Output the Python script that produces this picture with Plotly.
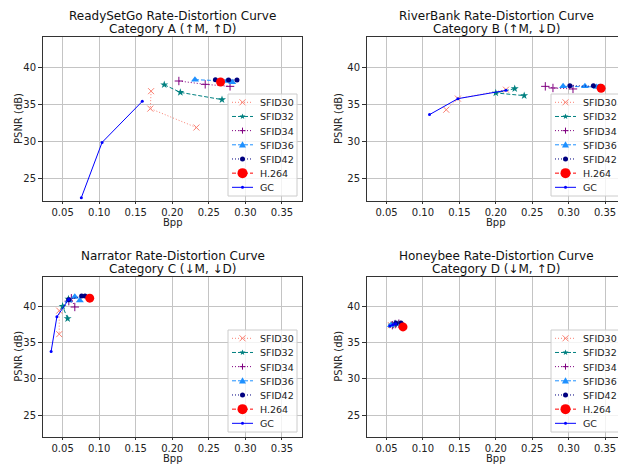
import math
import plotly.graph_objects as go

# ---------------- data (Bpp, PSNR dB) ----------------
series_names = ["SFID30", "SFID32", "SFID34", "SFID36", "SFID42", "H.264", "GC"]

# Panel A: ReadySetGo
rsg_sfid30_bpp = [0.171, 0.170, 0.233]
rsg_sfid30_psnr = [36.8, 34.45, 31.9]
rsg_sfid32_bpp = [0.189, 0.211, 0.268]
rsg_sfid32_psnr = [37.67, 36.64, 35.66]
rsg_sfid34_bpp = [0.209, 0.245, 0.279]
rsg_sfid34_psnr = [38.17, 37.72, 37.45]
rsg_sfid36_bpp = [0.231, 0.275, 0.282]
rsg_sfid36_psnr = [38.35, 38.17, 38.0]
rsg_sfid42_bpp = [0.259, 0.277, 0.2885]
rsg_sfid42_psnr = [38.35, 38.3, 38.3]
rsg_h264_bpp = [0.266]
rsg_h264_psnr = [38.04]
rsg_gc_bpp = [0.0756, 0.104, 0.159]
rsg_gc_psnr = [22.45, 29.9, 35.43]

# Panel B: RiverBank
rb_sfid30_bpp = [0.132, 0.148, 0.214]
rb_sfid30_psnr = [34.3, 35.8, 37.0]
rb_sfid32_bpp = [0.226, 0.200, 0.239]
rb_sfid32_psnr = [37.14, 36.56, 36.2]
rb_sfid34_bpp = [0.268, 0.2785, 0.306]
rb_sfid34_psnr = [37.45, 37.23, 37.1]
rb_sfid36_bpp = [0.2924, 0.3224, 0.3385]
rb_sfid36_psnr = [37.45, 37.45, 37.37]
rb_sfid42_bpp = [0.3017, 0.334, 0.3432]
rb_sfid42_psnr = [37.54, 37.54, 37.45]
rb_h264_bpp = [0.3446]
rb_h264_psnr = [37.18]
rb_gc_bpp = [0.109, 0.148, 0.214]
rb_gc_psnr = [33.64, 35.79, 36.91]

# Panel C: Narrator
nr_sfid30_bpp = [0.0454, 0.0454]
nr_sfid30_psnr = [39.4, 36.16]
nr_sfid32_bpp = [0.0569, 0.050, 0.058]
nr_sfid32_psnr = [38.3, 40.0, 41.0]
nr_sfid34_bpp = [0.0585, 0.062, 0.0667]
nr_sfid34_psnr = [40.7, 41.1, 39.9]
nr_sfid36_bpp = [0.0585, 0.0667, 0.0736]
nr_sfid36_psnr = [40.8, 41.3, 40.8]
nr_sfid42_bpp = [0.0583, 0.076, 0.0806]
nr_sfid42_psnr = [40.9, 41.4, 41.4]
nr_h264_bpp = [0.0871]
nr_h264_psnr = [41.12]
nr_gc_bpp = [0.0343, 0.0422, 0.0583]
nr_gc_psnr = [33.78, 38.55, 40.95]

# Panel D: Honeybee
hb_sfid30_bpp = [0.056, 0.060, 0.065]
hb_sfid30_psnr = [37.4, 37.5, 37.6]
hb_sfid32_bpp = [0.057, 0.061, 0.066]
hb_sfid32_psnr = [37.4, 37.55, 37.6]
hb_sfid34_bpp = [0.058, 0.062, 0.067]
hb_sfid34_psnr = [37.4, 37.55, 37.6]
hb_sfid36_bpp = [0.056, 0.0615, 0.0635]
hb_sfid36_psnr = [37.4, 37.6, 37.6]
hb_sfid42_bpp = [0.0629, 0.0698, 0.071]
hb_sfid42_psnr = [37.65, 37.7, 37.5]
hb_h264_bpp = [0.0726]
hb_h264_psnr = [37.16]
hb_gc_bpp = [0.0546, 0.0585, 0.0625]
hb_gc_psnr = [37.3, 37.45, 37.6]

panel_titles = [
    ("ReadySetGo Rate-Distortion Curve", "Category A (\u2191M, \u2191D)"),
    ("RiverBank Rate-Distortion Curve", "Category B (\u2191M, \u2193D)"),
    ("Narrator Rate-Distortion Curve", "Category C (\u2193M, \u2193D)"),
    ("Honeybee Rate-Distortion Curve", "Category D (\u2193M, \u2191D)"),
]

panel_data = [
    [(rsg_sfid30_bpp, rsg_sfid30_psnr), (rsg_sfid32_bpp, rsg_sfid32_psnr),
     (rsg_sfid34_bpp, rsg_sfid34_psnr), (rsg_sfid36_bpp, rsg_sfid36_psnr),
     (rsg_sfid42_bpp, rsg_sfid42_psnr), (rsg_h264_bpp, rsg_h264_psnr),
     (rsg_gc_bpp, rsg_gc_psnr)],
    [(rb_sfid30_bpp, rb_sfid30_psnr), (rb_sfid32_bpp, rb_sfid32_psnr),
     (rb_sfid34_bpp, rb_sfid34_psnr), (rb_sfid36_bpp, rb_sfid36_psnr),
     (rb_sfid42_bpp, rb_sfid42_psnr), (rb_h264_bpp, rb_h264_psnr),
     (rb_gc_bpp, rb_gc_psnr)],
    [(nr_sfid30_bpp, nr_sfid30_psnr), (nr_sfid32_bpp, nr_sfid32_psnr),
     (nr_sfid34_bpp, nr_sfid34_psnr), (nr_sfid36_bpp, nr_sfid36_psnr),
     (nr_sfid42_bpp, nr_sfid42_psnr), (nr_h264_bpp, nr_h264_psnr),
     (nr_gc_bpp, nr_gc_psnr)],
    [(hb_sfid30_bpp, hb_sfid30_psnr), (hb_sfid32_bpp, hb_sfid32_psnr),
     (hb_sfid34_bpp, hb_sfid34_psnr), (hb_sfid36_bpp, hb_sfid36_psnr),
     (hb_sfid42_bpp, hb_sfid42_psnr), (hb_h264_bpp, hb_h264_psnr),
     (hb_gc_bpp, hb_gc_psnr)],
]

x_ticks = [0.05, 0.10, 0.15, 0.20, 0.25, 0.30, 0.35]
y_ticks = [25, 30, 35, 40]
x_title = "Bpp"
y_title = "PSNR (dB)"

# ---------------- styles ----------------
styles = {
    "SFID30": dict(color="#FA8072", dash="1px,2px", symbol="x-thin", size=6, lw=1),
    "SFID32": dict(color="#008080", dash="4px,2px", symbol="star", size=6, lw=0),
    "SFID34": dict(color="#800080", dash="1px,2px", symbol="cross-thin", size=6, lw=1),
    "SFID36": dict(color="#1E90FF", dash="4px,2px", symbol="triangle-up", size=7, lw=0),
    "SFID42": dict(color="#000080", dash="1px,2px", symbol="circle", size=5, lw=0),
    "H.264": dict(color="#FF0000", dash="4px,2px", symbol="circle", size=9, lw=0),
    "GC": dict(color="#0000FF", dash="solid", symbol="circle", size=3, lw=0),
}

FONT = "DejaVu Sans"
TXT = "#222222"
OFF = 8                      # page body margin
W, H = 626 - OFF, 467 - OFF
ML, MR, MT, MB = 43 - OFF, 1, 37 - OFF, 30
PW, PH = W - ML - MR, H - MT - MB

def px_x(p):                 # p: pixel x in the 626x467 window
    return (p - OFF - ML) / PW

def px_y(p):
    return (H - MB - (p - OFF)) / PH

col_px = [(43, 302), (367, 625)]
row_px = [(37, 201), (276.5, 437)]
ytitle_x = [19, 339]

# legend geometry (pixels)
LEG_W, LEG_H, LEG_INSET = 69, 102, 5
LEG_ROW0, LEG_STEP = 8.3, 14.17
LEG_LINE = (4, 25)
LEG_TEXT_X = 30


def symbol_shapes(sym, cx, cy, size, color):
    """Legend key marker drawn as layout shapes (pixel centre cx, cy)."""
    r = size / 2.0
    common = dict(xref="paper", yref="paper", layer="above")
    if sym == "circle":
        return [dict(common, type="circle", x0=px_x(cx - r), x1=px_x(cx + r),
                     y0=px_y(cy + r), y1=px_y(cy - r), fillcolor=color,
                     line=dict(width=0))]
    if sym == "x-thin":
        return [dict(common, type="line", x0=px_x(cx - r), x1=px_x(cx + r), y0=px_y(cy - r), y1=px_y(cy + r),
                     line=dict(color=color, width=1)),
                dict(common, type="line", x0=px_x(cx - r), x1=px_x(cx + r), y0=px_y(cy + r), y1=px_y(cy - r),
                     line=dict(color=color, width=1))]
    if sym == "cross-thin":
        return [dict(common, type="line", x0=px_x(cx - r), x1=px_x(cx + r), y0=px_y(cy), y1=px_y(cy),
                     line=dict(color=color, width=1)),
                dict(common, type="line", x0=px_x(cx), x1=px_x(cx), y0=px_y(cy - r), y1=px_y(cy + r),
                     line=dict(color=color, width=1))]
    if sym == "triangle-up":
        pts = [(cx, cy - r), (cx + r, cy + r * 0.8), (cx - r, cy + r * 0.8)]
    else:  # star
        pts = []
        for k in range(10):
            rr = r if k % 2 == 0 else r * 0.45
            a = -math.pi / 2 + k * math.pi / 5
            pts.append((cx + rr * math.cos(a), cy + rr * math.sin(a)))
    path = "M " + " L ".join(f"{px_x(x):.5f},{px_y(y):.5f}" for x, y in pts) + " Z"
    return [dict(common, type="path", path=path, fillcolor=color, line=dict(width=0))]


fig = go.Figure()
layout = dict(
    width=W, height=H, autosize=False,
    margin=dict(l=ML, r=MR, t=MT, b=MB),
    paper_bgcolor="white", plot_bgcolor="white",
    font=dict(family=FONT, size=10, color=TXT),
    template="none", showlegend=False,
)
annotations = []
shapes = []

for i, (data, (t1, t2)) in enumerate(zip(panel_data, panel_titles)):
    r, c = divmod(i, 2)
    xn = "" if i == 0 else str(i + 1)
    xa, ya = "x" + xn, "y" + xn
    for name, (xs, ys) in zip(series_names, data):
        s = styles[name]
        marker = dict(symbol=s["symbol"], size=s["size"], color=s["color"])
        if s["lw"]:
            marker["line"] = dict(width=s["lw"], color=s["color"])
        fig.add_trace(go.Scatter(
            x=xs, y=ys, name=name, mode="lines+markers",
            line=dict(color=s["color"], width=1, dash=s["dash"]),
            marker=marker, xaxis=xa, yaxis=ya,
        ))
    x0, x1 = col_px[c]
    y0, y1 = row_px[r]
    axis_common = dict(
        showline=True, linecolor="#333333", linewidth=1, mirror=True,
        showgrid=True, gridcolor="#c4c4c4", gridwidth=1,
        ticks="outside", tickwidth=1, tickcolor="#333333",
        tickfont=dict(family=FONT, size=10, color=TXT),
        zeroline=False, automargin=False,
    )
    layout["xaxis" + xn] = dict(
        axis_common, domain=[px_x(x0), px_x(x1)], range=[0.0232, 0.3774],
        tickvals=x_ticks, tickformat=".2f", anchor=ya, ticklen=2,
    )
    layout["yaxis" + xn] = dict(
        axis_common, domain=[px_y(y1), px_y(y0)], range=[22.0, 44.1],
        tickvals=y_ticks, anchor=xa, ticklen=4,
    )
    cx = px_x((x0 + x1) / 2)
    # titles
    annotations.append(dict(text=t1, x=cx, y=px_y(y0 - 21), xref="paper", yref="paper",
                            xanchor="center", yanchor="middle", showarrow=False,
                            font=dict(family=FONT, size=12, color="#111111")))
    annotations.append(dict(text=t2, x=cx, y=px_y(y0 - 7.5), xref="paper", yref="paper",
                            xanchor="center", yanchor="middle", showarrow=False,
                            font=dict(family=FONT, size=12, color="#111111")))
    # axis titles
    annotations.append(dict(text=x_title, x=cx, y=px_y(min(y1 + 28, 467)), xref="paper", yref="paper",
                            xanchor="center", yanchor="bottom", showarrow=False, borderpad=0,
                            font=dict(family=FONT, size=10, color=TXT)))
    annotations.append(dict(text=y_title, x=px_x(ytitle_x[c]), y=px_y((y0 + y1) / 2),
                            xref="paper", yref="paper", textangle=-90,
                            xanchor="center", yanchor="middle", showarrow=False,
                            font=dict(family=FONT, size=10, color=TXT)))
    # legend box
    lr, lb = x1 - LEG_INSET, y1 - LEG_INSET
    ll, lt = lr - LEG_W, lb - LEG_H
    shapes.append(dict(type="rect", xref="paper", yref="paper", layer="above",
                       x0=px_x(ll), x1=px_x(lr), y0=px_y(lb), y1=px_y(lt),
                       fillcolor="rgba(255,255,255,0.8)",
                       line=dict(color="#cccccc", width=1)))
    for k, name in enumerate(series_names):
        s = styles[name]
        ry = lt + LEG_ROW0 + k * LEG_STEP
        shapes.append(dict(type="line", xref="paper", yref="paper", layer="above",
                           x0=px_x(ll + LEG_LINE[0]), x1=px_x(ll + LEG_LINE[1]),
                           y0=px_y(ry), y1=px_y(ry),
                           line=dict(color=s["color"], width=1, dash=s["dash"])))
        shapes.extend(symbol_shapes(s["symbol"], ll + (LEG_LINE[0] + LEG_LINE[1]) / 2, ry,
                                    s["size"] + (1 if name == "H.264" else 0), s["color"]))
        annotations.append(dict(text=name, x=px_x(ll + LEG_TEXT_X), y=px_y(ry + 0.5),
                                xref="paper", yref="paper", xanchor="left", yanchor="middle",
                                showarrow=False,
                                font=dict(family=FONT, size=9.5, color=TXT)))

layout["annotations"] = annotations
layout["shapes"] = shapes
fig.update_layout(**layout)
fig.write_html("out.html")
